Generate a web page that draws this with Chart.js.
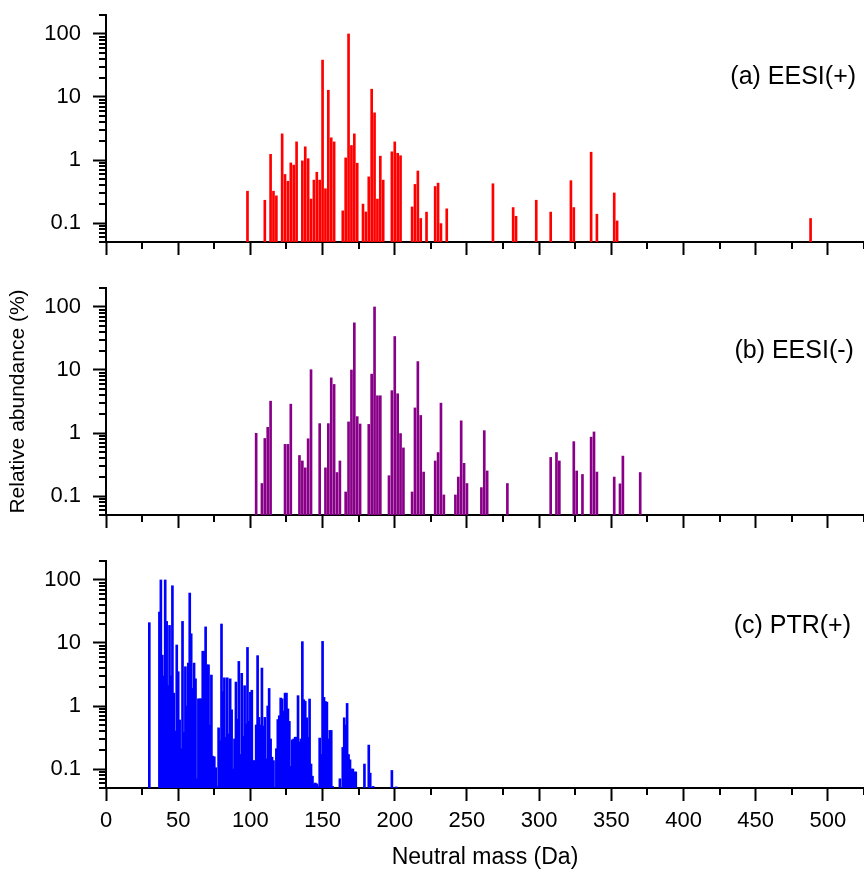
<!DOCTYPE html>
<html><head><meta charset="utf-8">
<script src="https://cdn.jsdelivr.net/npm/chart.js@4"></script>
<style>
body{margin:0;background:#fff;width:864px;height:869px;overflow:hidden;position:relative}
canvas{position:absolute;left:0}
</style></head><body>
<canvas id="ca" width="864" height="260" style="top:0px"></canvas>
<canvas id="cb" width="864" height="260" style="top:273px"></canvas>
<canvas id="cc" width="864" height="323" style="top:546px"></canvas>
<script>
// ---- data (neutral mass in Da, relative abundance in %) ----
const massA = [98,110,114,116,118,122,124,126,128,130,132,136,138,140,142,144,146,148,150,152,154,156,158,164,166,168,170,172,174,178,180,182,184,186,188,190,192,198,200,202,204,212,214,216,218,222,228,230,232,236,268,282,284,298,308,322,324,336,340,352,354,488];
const abundA = [0.32,0.23,1.23,0.32,0.27,2.6,0.59,0.46,0.9,0.83,1.94,0.97,1.62,1.05,0.24,0.48,0.64,0.48,38.5,0.35,12.8,2.25,1.94,0.156,1.08,100,1.7,2.6,0.89,0.2,0.15,0.54,13.3,5.6,0.24,1.15,0.48,1.35,1.94,1.28,1.17,0.18,0.41,0.67,0.118,0.149,0.38,0.43,0.098,0.168,0.42,0.176,0.128,0.23,0.149,0.47,0.176,1.33,0.138,0.3,0.108,0.118];

const massB = [104,108,110,112,114,124,126,128,134,136,138,140,142,148,152,154,156,158,160,162,166,168,170,172,174,176,182,184,186,188,190,196,198,200,202,204,206,212,214,216,218,220,228,230,232,234,242,244,246,248,250,260,262,264,278,308,312,314,324,326,330,336,338,340,352,356,358,370];
const abundB = [0.99,0.158,0.82,1.23,3.2,0.66,0.66,2.87,0.44,0.36,0.28,0.81,10.1,1.41,0.28,1.41,7.5,5.9,0.236,0.36,0.116,1.5,10,56,1.82,1.39,1.37,8.6,100,3.9,3.9,0.21,4.7,34,4.2,0.98,0.58,0.116,2.5,13.6,1.9,0.24,0.36,0.49,2.98,0.104,0.104,0.2,1.56,0.33,0.158,0.136,1.09,0.25,0.158,0.41,0.49,0.36,0.73,0.25,0.22,0.86,1.04,0.24,0.2,0.156,0.43,0.236];

const massC = [30,37,38,39,40,41,42,43,44,45,46,47,48,49,50,51,52,53,54,55,56,57,58,59,60,61,62,63,64,65,66,67,68,69,70,71,72,73,74,75,76,77,78,79,80,81,82,83,84,85,86,87,88,89,90,91,92,93,94,95,96,97,98,99,100,101,102,103,104,105,106,107,108,109,110,111,112,113,114,115,116,118,119,120,121,122,123,124,125,126,127,128,129,130,131,132,133,134,135,136,137,138,139,140,141,142,143,144,145,146,147,148,149,150,151,152,153,154,155,156,157,162,164,165,166,167,168,169,170,171,172,173,179,182,183,185,198,201];
const abundC = [21,31,100,6.4,3,100,22,2.1,19,3,81,1.6,0.4,9.3,3.5,0.6,0.21,22,0.38,4.2,1.0,4.8,62,14,1.9,4.8,2.7,0.07,1.3,1.3,1.3,7.4,7.4,18,4.5,4.5,0.5,3.1,0.16,0.156,0.105,0.053,0.45,0.28,20,1.7,2.8,0.32,2.8,0.36,2.7,0.87,0.1,0.3,2.4,0.62,5.1,0.17,3.3,0.33,2.1,0.52,8.5,0.57,1.65,1.78,0.136,0.136,0.5,6.3,0.66,0.5,4.0,0.48,0.66,0.145,1.0,1.9,0.3,0.154,0.136,0.21,0.61,0.7,1.34,1.3,0.83,1.6,1.6,0.9,0.57,0.11,0.29,0.3,0.32,0.32,1.46,0.27,0.3,10.5,1.26,1.19,0.65,0.32,1.29,0.12,0.077,0.058,0.06,0.058,0.053,0.31,0.17,10.6,1.37,1.18,1.15,0.3,0.41,0.41,0.053,0.07,0.22,0.65,0.5,1.1,0.17,0.14,0.1,0.1,0.09,0.09,0.12,0.24,0.086,0.053,0.095,0.052];

const panelNames = ['(a) EESI(+)', '(b) EESI(-)', '(c) PTR(+)'];
const yMajor = [0.1, 1, 10, 100];
const yMinor = [0.05,0.06,0.07,0.08,0.09,0.2,0.3,0.4,0.5,0.6,0.7,0.8,0.9,2,3,4,5,6,7,8,9,20,30,40,50,60,70,80,90,200];
const xMinor = [25,75,125,175,225,275,325,375,425,475,525];
const xTitle = 'Neutral mass (Da)';
const yTitle = 'Relative abundance (%)';

const FONT = '"Liberation Sans", Arial, sans-serif';
Chart.defaults.font.family = FONT;
Chart.defaults.color = '#000';

const minorTicks = {
  id: 'minorTicks',
  afterDraw(chart) {
    const ctx = chart.ctx, xs = chart.scales.x, ys = chart.scales.y, a = chart.chartArea;
    ctx.save();
    ctx.strokeStyle = '#000'; ctx.lineWidth = 2;
    ctx.beginPath();
    xMinor.forEach(v => { const px = Math.round(xs.getPixelForValue(v)); ctx.moveTo(px, a.bottom); ctx.lineTo(px, a.bottom + 7); });
    yMinor.forEach(v => { const py = Math.round(ys.getPixelForValue(v)); ctx.moveTo(a.left, py); ctx.lineTo(a.left - 7, py); });
    ctx.stroke();
    ctx.restore();
  }
};

const panelLabel = {
  id: 'panelLabel',
  afterDatasetsDraw(chart, args, opts) {
    const ctx = chart.ctx;
    ctx.save();
    ctx.font = '25px ' + FONT;
    ctx.fillStyle = '#000';
    ctx.textAlign = 'right';
    ctx.textBaseline = 'middle';
    ctx.fillText(opts.text, chart.scales.x.getPixelForValue(opts.xv), chart.scales.y.getPixelForValue(opts.yv));
    ctx.restore();
  }
};

function zeroPad(s) { s.paddingTop = 0; s.paddingBottom = 0; s.paddingLeft = 0; s.paddingRight = 0; }

function makePanel(id, masses, values, color, name, lx, ly, isBottom, showYTitle) {
  new Chart(document.getElementById(id), {
    type: 'bar',
    data: {
      datasets: [{
        data: masses.map((m, i) => ({x: m, y: values[i]})),
        backgroundColor: color,
        borderWidth: 0,
        barThickness: 2,
        grouped: false
      }]
    },
    options: {
      responsive: false,
      animation: false,
      devicePixelRatio: 1,
      layout: {padding: {top: 15, left: 0, right: 0, bottom: 0}},
      plugins: {
        legend: {display: false},
        tooltip: {enabled: false},
        panelLabel: {text: name, xv: lx, yv: ly}
      },
      scales: {
        x: {
          type: 'linear', min: 0, max: 525, offset: false,
          afterFit: s => { s.height = isBottom ? 81 : 18; zeroPad(s); },
          ticks: {display: isBottom, stepSize: 50, includeBounds: false, autoSkip: false, maxRotation: 0,
                  font: {size: 22}, color: '#000', padding: 7},
          grid: {display: true, drawOnChartArea: false, drawTicks: true, tickLength: 13, tickWidth: 2, tickColor: '#000', offset: false},
          border: {display: true, color: '#000', width: 2},
          title: {display: isBottom, text: xTitle, font: {size: 23, lineHeight: 1.0}, color: '#000', padding: {top: 0, bottom: 0}}
        },
        y: {
          type: 'logarithmic', min: 0.05, max: 200,
          afterBuildTicks: s => { s.ticks = yMajor.map(v => ({value: v})); },
          afterFit: s => { s.width = 106; zeroPad(s); },
          ticks: {font: {size: 22}, color: '#000', padding: 12, callback: v => String(v)},
          grid: {display: true, drawOnChartArea: false, drawTicks: true, tickLength: 13, tickWidth: 2, tickColor: '#000'},
          border: {display: true, color: '#000', width: 2},
          title: {display: showYTitle, text: yTitle, font: {size: 21}, color: '#000', padding: {top: 6, bottom: 0}}
        }
      }
    },
    plugins: [minorTicks, panelLabel]
  });
}

makePanel('ca', massA, abundA, '#ff0000', panelNames[0], 519.5, 20.8, false, false);
makePanel('cb', massB, abundB, '#880088', panelNames[1], 518, 20, false, true);
makePanel('cc', massC, abundC, '#0000ff', panelNames[2], 516, 18.8, true, false);
</script>
</body></html>
